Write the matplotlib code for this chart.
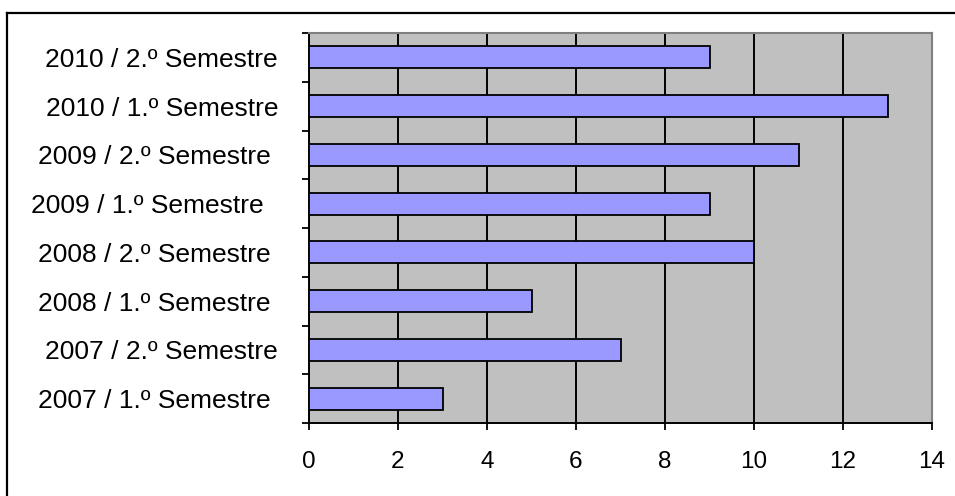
import matplotlib
matplotlib.use("Agg")
import matplotlib.pyplot as plt
from matplotlib.lines import Line2D

# Category labels (bottom to top) and counts per semester
labels = [
    "2007 / 1.º Semestre ",
    "2007 / 2.º Semestre",
    "2008 / 1.º Semestre ",
    "2008 / 2.º Semestre ",
    "2009 / 1.º Semestre  ",
    "2009 / 2.º Semestre ",
    "2010 / 1.º Semestre",
    "2010 / 2.º Semestre",
]
values = [3, 7, 5, 10, 9, 11, 13, 9]
x_ticks = [0, 2, 4, 6, 8, 10, 12, 14]

plt.rcParams["font.family"] = ["Liberation Sans", "DejaVu Sans"]

fig = plt.figure(figsize=(9.55, 4.96), dpi=100)
fig.patch.set_facecolor("white")

# Chart-area frame (top and left edges visible)
fig.add_artist(Line2D([7 / 955, 1.0], [1 - 13 / 496, 1 - 13 / 496],
                      transform=fig.transFigure, color="black", lw=1.6))
fig.add_artist(Line2D([7 / 955, 7 / 955], [0.0, 1 - 13 / 496],
                      transform=fig.transFigure, color="black", lw=1.6))

ax = fig.add_axes([309 / 955, 1 - 423 / 496, (932 - 309) / 955, (423 - 33) / 496])
ax.set_facecolor("#C0C0C0")

ypos = list(range(len(values)))
ax.barh(ypos, values, height=0.45, color="#9999FF", edgecolor="black",
        linewidth=1.3, zorder=3)

ax.set_xlim(0, 14)
ax.set_ylim(-0.5, len(values) - 0.5)
ax.set_xticks(x_ticks)
ax.set_xticklabels([str(t) for t in x_ticks])
ax.xaxis.grid(True, color="black", linewidth=1.4, zorder=1)
ax.set_axisbelow(True)

ax.set_yticks(ypos)
ax.set_yticklabels(labels)
ax.set_yticks([i - 0.5 for i in range(len(values) + 1)], minor=True)
ax.tick_params(axis="y", which="major", length=0, pad=22.3, labelsize=19)
ax.tick_params(axis="y", which="minor", length=5, width=1.3, direction="out",
               color="black")
ax.tick_params(axis="x", which="major", length=5, width=1.3, direction="out",
               pad=15, labelsize=17.5)

for side in ("top", "right"):
    ax.spines[side].set_color("#808080")
    ax.spines[side].set_linewidth(1.5)
for side in ("left", "bottom"):
    ax.spines[side].set_color("black")
    ax.spines[side].set_linewidth(1.4)

fig.savefig("out.png", dpi=100, facecolor="white")
